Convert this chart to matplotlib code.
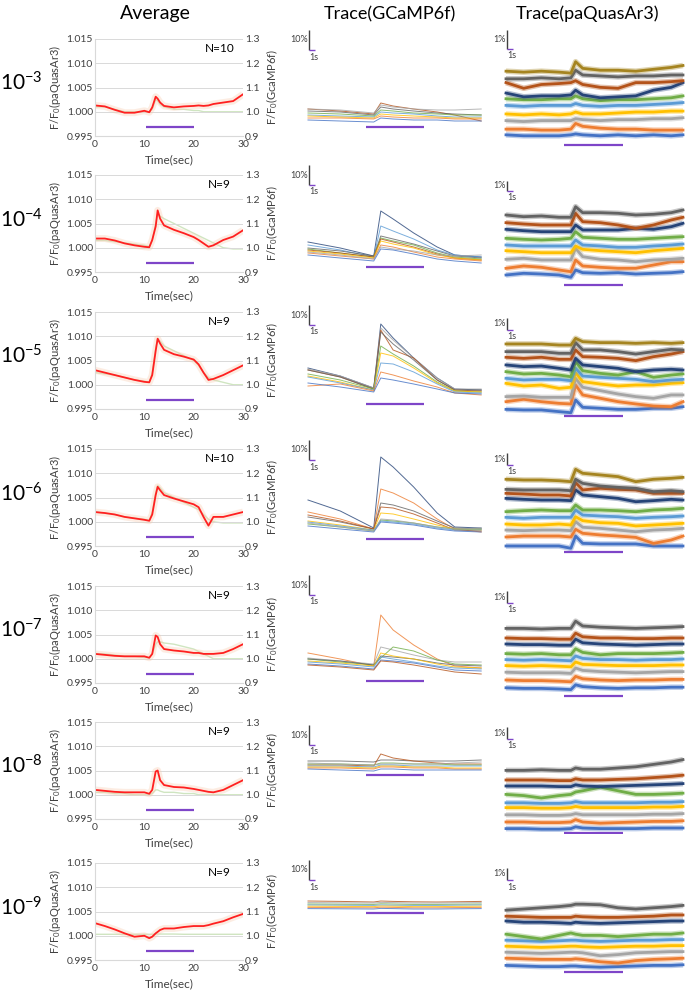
import matplotlib
matplotlib.use('Agg')
import matplotlib.pyplot as plt

plt.rcParams['font.family'] = ['Lato', 'DejaVu Sans']
plt.rcParams['mathtext.default'] = 'regular'

# ---------------------------------------------------------------- data
CONCENTRATIONS = ['10$^{-3}$', '10$^{-4}$', '10$^{-5}$', '10$^{-6}$',
                  '10$^{-7}$', '10$^{-8}$', '10$^{-9}$']
N_CELLS = [10, 9, 9, 10, 9, 9, 9]
AVG_TICKS_X = [0, 10, 20, 30]
AVG_TICKS_LEFT = [0.995, 1.000, 1.005, 1.010, 1.015]
AVG_TICKS_RIGHT = [0.9, 1.0, 1.1, 1.2, 1.3]
STIM_AVG = (10.3, 20.1)
STIM_TRACE = (9.8, 19.8)

# average panels: paQuasAr3 (left axis) and GCaMP6f (right axis)
T_AVG = [0, 2, 4, 6, 8, 10, 11, 11.6, 12.3, 12.7, 13.2, 14, 16, 18, 20, 21, 22, 23, 24, 26, 28, 30]
avg_pq_m3 = [1.0013, 1.0011, 1.0004, 0.9998, 0.9998, 1.0002, 0.9999, 1.0009, 1.0031, 1.0027, 1.0019,
             1.0012, 1.0009, 1.0011, 1.0012, 1.0013, 1.0012, 1.0013, 1.0016, 1.0019, 1.0022, 1.0036]
avg_pq_m4 = [1.0019, 1.0019, 1.0015, 1.0009, 1.0005, 1.0002, 1.0001, 1.0016, 1.0044, 1.0077, 1.0060,
             1.0046, 1.0037, 1.0030, 1.0022, 1.0016, 1.0009, 1.0002, 1.0005, 1.0016, 1.0023, 1.0036]
avg_pq_m5 = [1.0030, 1.0025, 1.0020, 1.0015, 1.0010, 1.0006, 1.0005, 1.0020, 1.0070, 1.0095, 1.0085,
             1.0072, 1.0063, 1.0058, 1.0052, 1.0042, 1.0025, 1.0010, 1.0012, 1.0020, 1.0030, 1.0040]
avg_pq_m6 = [1.0020, 1.0018, 1.0015, 1.0010, 1.0007, 1.0004, 1.0002, 1.0015, 1.0055, 1.0072, 1.0065,
             1.0055, 1.0048, 1.0042, 1.0036, 1.0030, 1.0010, 0.9992, 1.0010, 1.0010, 1.0015, 1.0020]
avg_pq_m7 = [1.0010, 1.0008, 1.0006, 1.0005, 1.0005, 1.0005, 1.0002, 1.0010, 1.0048, 1.0045, 1.0030,
             1.0020, 1.0017, 1.0015, 1.0012, 1.0012, 1.0010, 1.0010, 1.0010, 1.0012, 1.0020, 1.0030]
avg_pq_m8 = [1.0010, 1.0008, 1.0006, 1.0005, 1.0005, 1.0005, 1.0002, 1.0010, 1.0048, 1.0050, 1.0030,
             1.0020, 1.0016, 1.0015, 1.0012, 1.0010, 1.0008, 1.0006, 1.0005, 1.0010, 1.0020, 1.0030]
avg_pq_m9 = [1.0026, 1.0020, 1.0013, 1.0005, 0.9998, 1.0000, 0.9995, 0.9998, 1.0005, 1.0008, 1.0012,
             1.0015, 1.0015, 1.0018, 1.0020, 1.0020, 1.0020, 1.0022, 1.0025, 1.0030, 1.0038, 1.0045]

avg_gc_m3 = [1.02, 1.02, 1.01, 1.00, 1.00, 1.00, 1.00, 1.01, 1.05, 1.045, 1.03,
             1.02, 1.01, 1.01, 1.005, 1.005, 1.0, 1.0, 1.0, 1.0, 1.0, 1.0]
avg_gc_m4 = [1.03, 1.03, 1.025, 1.02, 1.015, 1.01, 1.005, 1.03, 1.10, 1.14, 1.13,
             1.12, 1.10, 1.08, 1.06, 1.05, 1.04, 1.03, 1.02, 1.00, 0.995, 0.995]
avg_gc_m5 = [1.05, 1.045, 1.04, 1.03, 1.02, 1.015, 1.01, 1.05, 1.15, 1.19, 1.18,
             1.16, 1.14, 1.12, 1.10, 1.08, 1.05, 1.03, 1.02, 1.01, 1.00, 1.00]
avg_gc_m6 = [1.04, 1.035, 1.03, 1.02, 1.015, 1.01, 1.005, 1.04, 1.12, 1.15, 1.14,
             1.12, 1.10, 1.08, 1.06, 1.05, 1.03, 1.01, 1.00, 0.995, 0.995, 0.995]
avg_gc_m7 = [1.02, 1.02, 1.015, 1.01, 1.01, 1.005, 1.005, 1.02, 1.06, 1.07, 1.07,
             1.065, 1.06, 1.05, 1.04, 1.03, 1.02, 1.01, 1.00, 1.00, 1.00, 1.00]
avg_gc_m8 = [1.01, 1.01, 1.005, 1.005, 1.0, 1.0, 1.0, 1.005, 1.02, 1.02, 1.015,
             1.01, 1.01, 1.005, 1.005, 1.0, 1.0, 1.0, 1.0, 1.0, 1.0, 1.0]
avg_gc_m9 = [1.006, 1.006, 1.006, 1.006, 1.006, 1.006, 1.006, 1.006, 1.007, 1.007, 1.007,
             1.007, 1.007, 1.006, 1.006, 1.006, 1.006, 1.006, 1.006, 1.006, 1.006, 1.006]

# GCaMP6f single-cell traces (dF/F in %, stacked as drawn)
T_GC = [0, 5.5, 11.2, 12.4, 14.5, 18, 22, 25, 29.5]
gc_m3 = {
    'brown':     [14, 13, 11.5, 17, 15.5, 14, 12.5, 11, 8],
    'gray':      [14, 13.5, 12, 16, 15, 14, 13.5, 13.5, 14],
    'darkgray':  [13, 12.5, 11, 15, 14, 13, 12, 11.5, 11],
    'green':     [12, 11.5, 10.5, 13.5, 13, 12, 11.5, 11, 11],
    'lightblue': [11, 10.5, 10, 12.5, 12, 11.5, 10.5, 10, 10],
    'yellow':    [10.5, 10, 9.5, 11.5, 11, 10.5, 10, 9.5, 9.5],
    'orange':    [9.5, 9.5, 9, 10.5, 10, 9.5, 9.5, 9, 9],
    'blue':      [8.5, 8, 7.5, 9.5, 9, 8.5, 8.5, 8, 8],
}
gc_m4 = {
    'navy':      [15.5, 12.5, 8.5, 31, 27, 20, 13, 9, 8],
    'lightblue': [14, 11.5, 8, 23.5, 21, 17, 11.5, 9, 8],
    'darkgray':  [12.5, 11, 8.5, 18.5, 17, 14.5, 11, 8.5, 7.5],
    'green':     [12, 10, 8, 17.5, 16, 14, 10, 8, 7],
    'brown':     [11.5, 10, 8, 17, 15.5, 13, 9.5, 7.5, 6.5],
    'yellow':    [11, 9.5, 7.5, 16, 14.5, 12.5, 9, 7.5, 6.5],
    'orange':    [10, 8.5, 7, 14, 13, 10.5, 8, 7, 6],
    'gray':      [10.5, 9, 7, 13, 12, 11, 9, 8.5, 9],
    'blue':      [9, 7.5, 6, 12, 11.5, 9.5, 7, 6, 5],
}
gc_m5 = {
    'navy':      [21, 17, 11, 43, 36, 26, 16, 10.5, 10],
    'gray':      [20.5, 17, 11, 41, 35, 26, 16, 10.5, 10.5],
    'brown':     [20, 16.5, 10.5, 40, 30, 26, 15, 10, 9.5],
    'darkgray':  [20, 16.5, 10.5, 39, 33, 25, 15, 10, 10],
    'green':     [18, 15, 10.5, 32, 28, 22, 14, 9.5, 9],
    'yellow':    [17, 14, 10, 28.5, 27, 21, 13.5, 9.5, 9],
    'lightblue': [16.5, 13.5, 10, 23.5, 23, 19, 13, 9, 8.5],
    'orange':    [12, 13, 9.5, 19, 17.5, 14.5, 11.5, 8.5, 7.5],
    'blue':      [13.5, 11.5, 9, 16, 15, 13, 10.5, 8.5, 8],
}
gc_m6 = {
    'navy':      [23.5, 18, 9.5, 45, 40, 30, 17, 10, 9.5],
    'orange':    [17.5, 14, 9, 29, 27, 22, 14, 9, 7.5],
    'darkgray':  [15, 12.5, 9, 22, 21, 18, 13, 9.5, 9],
    'brown':     [16, 13, 9, 20, 19.5, 16.5, 12, 8.5, 8],
    'yellow':    [13, 11, 8.5, 17, 16.5, 14, 11, 9, 8.5],
    'green':     [11.5, 10, 8, 13.5, 13, 12, 10, 9, 9],
    'lightblue': [12.5, 10.5, 8.5, 13, 12.5, 11.5, 9.5, 8.5, 8.5],
    'blue':      [10.5, 9, 7.5, 12.5, 12, 11, 9, 8, 7.5],
    'gray':      [12, 10, 8, 14, 13.5, 12, 10, 9, 9.5],
}
gc_m7 = {
    'orange':    [15.5, 12.5, 9, 34.5, 27, 19.5, 12.5, 9, 8],
    'gray':      [13, 11.5, 10, 18.5, 17, 14.5, 12, 11, 11],
    'green':     [12.5, 11, 9.5, 13, 18.5, 16.5, 12, 10, 9.5],
    'darkgray':  [12.5, 11.5, 9.5, 14, 13.5, 12.5, 10.5, 9.5, 9],
    'yellow':    [11.5, 10.5, 9, 15.5, 14, 12.5, 10, 8.5, 8],
    'lightblue': [11, 10, 8.5, 13.5, 12.5, 11, 9, 8, 7.5],
    'blue':      [10, 9, 7.5, 12, 11.5, 10.5, 8.5, 7, 6.5],
    'brown':     [9.5, 8.5, 7, 11.5, 11, 9.5, 7.5, 6, 5],
}
gc_m8 = {
    'darkgray':  [29.5, 29.5, 29, 30, 30, 29.5, 29.5, 29.5, 30],
    'brown':     [27.5, 27.5, 27, 33, 31, 29.5, 28.5, 28, 28],
    'green':     [28, 28, 27.5, 28.5, 28.5, 28, 28, 27.5, 27.5],
    'gray':      [28.5, 28, 27.5, 28, 28, 28, 28, 28.5, 29],
    'lightblue': [27, 27, 26.5, 27.5, 27.5, 27, 27, 27, 27],
    'yellow':    [26.5, 26.5, 26, 27, 27, 26.5, 26.5, 26, 26],
    'orange':    [26, 26, 25.5, 26.5, 26.5, 26, 26, 25.5, 25.5],
    'blue':      [25.5, 25, 24.5, 25.5, 25.5, 25, 25, 25, 25],
}
gc_m9 = {
    'brown':     [30, 29.8, 29.5, 30, 29.8, 29.6, 29.5, 29.6, 29.8],
    'gray':      [29.2, 29.1, 29, 29.3, 29.2, 29, 29, 29.1, 29.2],
    'green':     [28.5, 28.4, 28.3, 28.6, 28.5, 28.3, 28.3, 28.4, 28.5],
    'lightblue': [28, 27.9, 27.8, 28, 27.9, 27.8, 27.8, 27.9, 28],
    'yellow':    [27.4, 27.3, 27.2, 27.5, 27.4, 27.2, 27.2, 27.3, 27.4],
    'orange':    [26.8, 26.7, 26.6, 26.9, 26.8, 26.6, 26.6, 26.7, 26.8],
    'blue':      [26.2, 26.1, 26, 26.3, 26.2, 26, 26, 26.1, 26.2],
}

# paQuasAr3 single-cell traces (dF/F in %, stacked as drawn)
T_PQ = [0, 3, 6, 9, 11, 11.8, 13, 16, 19, 22, 25, 28, 30]
pq_m3 = {
    'olive':     [4.2, 4.15, 4.2, 4.15, 4.1, 4.7, 4.35, 4.25, 4.25, 4.2, 4.3, 4.4, 4.5],
    'darkgray':  [3.8, 3.8, 3.85, 3.8, 3.85, 4.25, 4.0, 3.95, 3.9, 3.95, 3.95, 4.0, 4.0],
    'brown':     [3.6, 3.3, 3.5, 3.55, 3.6, 3.7, 3.5, 3.35, 3.3, 3.6, 3.6, 3.65, 3.7],
    'navy':      [3.05, 2.85, 2.9, 2.9, 2.95, 3.2, 2.95, 2.8, 2.85, 2.9, 3.2, 3.35, 3.6],
    'green':     [2.75, 2.7, 2.7, 2.75, 2.75, 2.9, 2.75, 2.65, 2.7, 2.7, 2.75, 2.8, 2.9],
    'lightblue': [2.4, 2.35, 2.4, 2.4, 2.4, 2.5, 2.4, 2.35, 2.4, 2.4, 2.45, 2.5, 2.55],
    'yellow':    [1.95, 1.9, 1.95, 1.9, 1.95, 2.05, 1.95, 1.95, 2.0, 2.05, 2.05, 2.1, 2.1],
    'gray':      [1.6, 1.55, 1.6, 1.6, 1.6, 1.7, 1.65, 1.6, 1.65, 1.65, 1.7, 1.7, 1.75],
    'orange':    [1.15, 1.15, 1.1, 1.1, 1.15, 1.45, 1.3, 1.2, 1.15, 1.15, 1.1, 1.1, 1.1],
    'blue':      [0.85, 0.8, 0.8, 0.8, 0.85, 0.9, 0.85, 0.8, 0.85, 0.8, 0.85, 0.8, 0.85],
}
pq_m4 = {
    'darkgray':  [7.2, 7.03, 7.1, 6.97, 6.97, 8.03, 7.43, 7.43, 7.37, 7.2, 7.27, 7.43, 7.7],
    'brown':     [6.43, 6.3, 6.2, 6.2, 6.2, 7.37, 6.53, 6.43, 6.2, 5.87, 6.2, 6.7, 6.97],
    'navy':      [5.77, 5.63, 5.53, 5.53, 5.53, 6.2, 5.7, 5.7, 5.7, 5.87, 5.77, 6.03, 6.37],
    'green':     [4.87, 4.77, 4.7, 4.77, 4.87, 5.53, 4.97, 4.87, 4.77, 4.77, 4.87, 4.97, 5.03],
    'lightblue': [4.2, 4.1, 4.1, 4.1, 4.1, 4.7, 4.2, 4.1, 3.97, 3.97, 4.1, 4.2, 4.3],
    'yellow':    [3.63, 3.53, 3.43, 3.43, 3.43, 4.1, 3.77, 3.63, 3.53, 3.43, 3.63, 3.77, 3.87],
    'gray':      [2.77, 2.87, 2.7, 2.7, 2.7, 3.87, 3.03, 2.77, 2.7, 2.53, 2.7, 2.77, 2.87],
    'orange':    [1.87, 2.1, 1.97, 1.7, 1.53, 2.7, 2.1, 1.97, 1.87, 1.87, 2.2, 2.53, 2.53],
    'blue':      [1.2, 1.37, 1.3, 1.2, 0.97, 1.7, 1.43, 1.37, 1.43, 1.3, 1.37, 1.43, 1.53],
}
pq_m5 = {
    'olive':     [6.67, 6.67, 6.67, 6.58, 6.58, 7.14, 6.86, 6.78, 6.78, 6.72, 6.78, 6.72, 6.78],
    'darkgray':  [6.03, 6.03, 6.03, 5.89, 5.89, 6.78, 6.17, 6.17, 6.03, 5.83, 6.03, 6.22, 6.17],
    'brown':     [5.56, 5.47, 5.56, 5.39, 5.39, 6.17, 5.61, 5.56, 5.47, 5.28, 5.61, 5.83, 6.03],
    'navy':      [4.92, 4.78, 4.83, 4.64, 4.5, 5.47, 4.92, 4.78, 4.64, 4.36, 4.5, 4.56, 4.5],
    'green':     [4.36, 4.17, 4.22, 4.08, 3.94, 5.19, 4.44, 4.22, 4.08, 4.36, 3.89, 4.08, 4.17],
    'lightblue': [3.81, 3.67, 3.72, 3.72, 3.61, 4.64, 4.0, 3.89, 3.81, 3.72, 3.53, 3.67, 3.72],
    'yellow':    [3.39, 3.17, 3.25, 2.97, 3.06, 4.28, 3.53, 3.33, 3.17, 3.25, 3.25, 3.39, 3.44],
    'gray':      [2.28, 2.33, 2.22, 2.22, 2.22, 3.81, 3.06, 2.78, 2.5, 2.28, 2.14, 2.42, 2.42],
    'orange':    [1.86, 2.06, 1.86, 1.72, 1.67, 3.25, 2.42, 2.14, 1.86, 1.67, 1.5, 1.44, 1.86],
    'blue':      [1.22, 1.17, 1.17, 1.03, 0.94, 2.0, 1.39, 1.31, 1.22, 1.22, 1.31, 1.31, 1.44],
}
pq_m6 = {
    'olive':     [6.81, 6.75, 6.75, 6.69, 6.61, 7.64, 7.31, 7.17, 7.03, 6.61, 6.81, 6.89, 6.97],
    'darkgray':  [5.97, 5.92, 5.92, 5.92, 5.86, 6.81, 6.47, 6.25, 6.14, 6.06, 5.78, 5.86, 5.78],
    'brown':     [5.64, 5.58, 5.5, 5.5, 5.42, 6.53, 5.92, 6.06, 5.97, 5.92, 5.64, 5.64, 5.64],
    'navy':      [5.22, 5.14, 5.08, 5.08, 5.03, 5.92, 5.5, 5.36, 5.22, 4.94, 5.03, 5.14, 5.08],
    'green':     [4.11, 4.19, 4.25, 4.19, 4.19, 4.67, 4.25, 4.25, 4.19, 4.11, 4.25, 4.31, 4.39],
    'lightblue': [3.64, 3.56, 3.64, 3.64, 3.64, 4.25, 3.83, 3.75, 3.69, 3.56, 3.64, 3.69, 3.75],
    'yellow':    [3.08, 3.0, 3.0, 3.08, 3.0, 3.69, 3.36, 3.19, 3.14, 2.92, 3.0, 3.08, 3.14],
    'gray':      [2.58, 2.53, 2.58, 2.58, 2.53, 3.28, 2.81, 2.72, 2.58, 2.44, 2.58, 2.64, 2.72],
    'orange':    [2.0, 2.08, 2.08, 2.08, 2.0, 2.64, 2.31, 2.17, 2.08, 1.97, 1.47, 1.75, 2.08],
    'blue':      [1.25, 1.25, 1.25, 1.25, 1.06, 2.08, 1.47, 1.42, 1.42, 1.42, 1.25, 1.25, 1.25],
}
pq_m7 = {
    'darkgray':  [5.8, 5.8, 5.75, 5.8, 5.8, 6.4, 6.0, 5.9, 5.85, 5.8, 5.85, 5.9, 5.95],
    'brown':     [5.0, 4.95, 4.95, 4.9, 4.9, 5.4, 5.1, 5.0, 5.0, 4.95, 4.95, 5.0, 5.0],
    'navy':      [4.5, 4.45, 4.45, 4.4, 4.4, 4.9, 4.6, 4.5, 4.45, 4.4, 4.45, 4.5, 4.5],
    'green':     [3.7, 3.65, 3.7, 3.6, 3.6, 4.1, 3.8, 3.6, 3.7, 3.7, 3.7, 3.75, 3.8],
    'lightblue': [3.2, 3.15, 3.2, 3.15, 3.1, 3.5, 3.3, 3.2, 3.2, 3.15, 3.2, 3.2, 3.25],
    'yellow':    [2.7, 2.65, 2.7, 2.65, 2.6, 3.0, 2.8, 2.75, 2.7, 2.7, 2.7, 2.75, 2.75],
    'gray':      [2.15, 2.1, 2.1, 2.1, 2.05, 2.5, 2.3, 2.2, 2.15, 2.1, 2.15, 2.2, 2.2],
    'orange':    [1.5, 1.45, 1.45, 1.4, 1.35, 1.8, 1.6, 1.5, 1.45, 1.5, 1.5, 1.55, 1.55],
    'blue':      [0.85, 0.8, 0.8, 0.75, 0.7, 1.1, 0.95, 0.85, 0.8, 0.85, 0.85, 0.9, 0.9],
}
pq_m8 = {
    'darkgray':  [5.3, 5.3, 5.35, 5.3, 5.3, 5.5, 5.4, 5.4, 5.5, 5.6, 5.8, 6.0, 6.2],
    'brown':     [4.5, 4.5, 4.5, 4.45, 4.45, 4.6, 4.5, 4.5, 4.55, 4.6, 4.7, 4.8, 4.9],
    'navy':      [4.0, 4.0, 4.0, 3.95, 3.95, 4.1, 4.0, 3.95, 4.0, 4.05, 4.1, 4.15, 4.2],
    'green':     [3.3, 3.2, 3.0, 3.2, 3.3, 3.5, 3.6, 3.9, 3.6, 3.3, 3.3, 3.35, 3.4],
    'lightblue': [2.6, 2.6, 2.55, 2.55, 2.6, 2.7, 2.6, 2.6, 2.6, 2.6, 2.65, 2.65, 2.7],
    'yellow':    [2.2, 2.2, 2.15, 2.15, 2.2, 2.3, 2.2, 2.2, 2.2, 2.2, 2.25, 2.25, 2.3],
    'gray':      [1.6, 1.6, 1.55, 1.55, 1.6, 1.7, 1.6, 1.6, 1.6, 1.6, 1.65, 1.65, 1.7],
    'orange':    [1.0, 1.0, 0.95, 0.95, 1.0, 1.2, 1.0, 0.9, 0.95, 1.0, 1.05, 1.05, 1.1],
    'blue':      [0.45, 0.45, 0.4, 0.4, 0.45, 0.6, 0.5, 0.45, 0.45, 0.45, 0.5, 0.5, 0.5],
}
pq_m9 = {
    'darkgray':  [5.4, 5.5, 5.6, 5.7, 5.8, 5.9, 5.9, 5.85, 5.6, 5.5, 5.6, 5.7, 5.8],
    'brown':     [4.9, 4.85, 4.8, 4.8, 4.8, 4.9, 4.85, 4.8, 4.8, 4.85, 4.9, 5.0, 5.0],
    'navy':      [4.5, 4.4, 4.4, 4.35, 4.3, 4.4, 4.35, 4.3, 4.35, 4.4, 4.45, 4.5, 4.5],
    'green':     [3.4, 3.2, 3.0, 3.3, 3.5, 3.4, 3.3, 3.3, 3.2, 3.3, 3.4, 3.4, 3.5],
    'lightblue': [2.9, 2.85, 2.8, 2.85, 2.9, 2.9, 2.85, 2.8, 2.85, 2.9, 2.9, 2.95, 2.95],
    'yellow':    [2.4, 2.35, 2.3, 2.35, 2.4, 2.4, 2.35, 2.3, 2.35, 2.4, 2.4, 2.45, 2.45],
    'gray':      [1.9, 1.85, 1.8, 1.85, 1.9, 1.9, 1.85, 1.6, 1.7, 1.85, 1.9, 1.95, 1.95],
    'orange':    [1.4, 1.35, 1.3, 1.3, 1.3, 1.35, 1.3, 1.1, 1.0, 1.2, 1.3, 1.35, 1.4],
    'blue':      [0.8, 0.75, 0.7, 0.7, 0.75, 0.75, 0.7, 0.65, 0.7, 0.75, 0.8, 0.8, 0.85],
}

AVG_PQ = [avg_pq_m3, avg_pq_m4, avg_pq_m5, avg_pq_m6, avg_pq_m7, avg_pq_m8, avg_pq_m9]
AVG_GC = [avg_gc_m3, avg_gc_m4, avg_gc_m5, avg_gc_m6, avg_gc_m7, avg_gc_m8, avg_gc_m9]
GC_ROWS = [gc_m3, gc_m4, gc_m5, gc_m6, gc_m7, gc_m8, gc_m9]
PQ_ROWS = [pq_m3, pq_m4, pq_m5, pq_m6, pq_m7, pq_m8, pq_m9]

# ---------------------------------------------------------------- style / layout
PALETTE = {'blue': '#4472C4', 'orange': '#ED7D31', 'gray': '#A5A5A5', 'yellow': '#FFC000',
           'lightblue': '#5B9BD5', 'green': '#70AD47', 'navy': '#264478', 'brown': '#B4531A',
           'darkgray': '#636363', 'olive': '#A58420'}
PURPLE = '#7E45C8'
W, H = 685, 993
ROW_TOP = [39, 175, 312, 449, 586, 722, 863]
GC_BAR_Y = [5, 3, 3, 4, 1.5, 22.5, 24]
GC_SB_TOP = [-9, -10, -7, -9, -11, 3, -3]
PQ_SCALE = [19, 10, 12, 12, 12, 12, 12]
PQ_SB_TOP = [-9, 6, 6, 4, 5, 5, 5]
PQ_BAR_Y = [0.3, 0.2, 0.67, 0.75, 0.17, 0.1, 0.25]

fig = plt.figure(figsize=(W / 100, H / 100), dpi=100)


def px_rect(x0, y0, x1, y1):
    return [x0 / W, 1 - y1 / H, (x1 - x0) / W, (y1 - y0) / H]


def ftext(x, y, s, **kw):
    fig.text(x / W, 1 - y / H, s, **kw)


ftext(155, 14, 'Average', ha='center', va='center', fontsize=14)
ftext(390, 14, 'Trace(GCaMP6f)', ha='center', va='center', fontsize=13)
ftext(587, 14, 'Trace(paQuasAr3)', ha='center', va='center', fontsize=13)

for i, top in enumerate(ROW_TOP):
    # ---------------- average panel
    ax = fig.add_axes(px_rect(95, top, 243, top + 97))
    ax2 = ax.twinx()
    ax.set_zorder(ax2.get_zorder() + 1)
    ax.patch.set_visible(False)
    ax.set_xlim(0, 30)
    ax.set_ylim(0.995, 1.015)
    ax2.set_ylim(0.9, 1.3)
    ax.set_xticks(AVG_TICKS_X)
    ax.set_yticks(AVG_TICKS_LEFT)
    ax.set_yticklabels([f'{v:.3f}' for v in AVG_TICKS_LEFT])
    ax2.set_yticks(AVG_TICKS_RIGHT)
    ax2.set_yticklabels([f'{v:.1f}' for v in AVG_TICKS_RIGHT])
    ax.tick_params(axis='y', length=0, labelsize=7.5, pad=1.5, labelcolor='#404040')
    ax.tick_params(axis='x', length=0, labelsize=7.5, pad=3, labelcolor='#404040')
    ax2.tick_params(axis='y', length=0, labelsize=7.5, pad=1.5, labelcolor='#404040')
    for s in ('top', 'right'):
        ax.spines[s].set_visible(False)
    for s in ('left', 'bottom'):
        ax.spines[s].set_color('#d9d9d9')
        ax.spines[s].set_linewidth(0.8)
    for sp in ax2.spines.values():
        sp.set_visible(False)
    ax.grid(axis='y', color='#d9d9d9', lw=0.7)
    ax2.plot(T_AVG, AVG_GC[i], color='#A9D18E', lw=1.0, alpha=0.55)
    ax.plot(T_AVG, AVG_PQ[i], color='#F8CBAD', lw=5, alpha=0.35, solid_capstyle='butt')
    ax.plot(T_AVG, AVG_PQ[i], color='#FF2020', lw=1.3)
    ax.hlines(0.9968, *STIM_AVG, color=PURPLE, lw=1.6)
    ax.text(0.84, 0.905, f'N={N_CELLS[i]}', transform=ax.transAxes,
            ha='center', va='center', fontsize=8.5)
    ftext(55, top + 48, 'F/F$_0$(paQuasAr3)', rotation=90, ha='center', va='center',
          fontsize=8, color='#404040')
    ftext(272, top + 48, 'F/F$_0$(GcaMP6f)', rotation=90, ha='center', va='center',
          fontsize=8, color='#404040')
    ftext(169, top + 121, 'Time(sec)', ha='center', va='center', fontsize=8.5, color='#404040')
    ftext(0, top + 52, CONCENTRATIONS[i], ha='left', va='baseline', fontsize=15)

    # ---------------- GCaMP6f traces
    axg = fig.add_axes(px_rect(296, top - 14, 490, top + 98))
    axg.set_xlim(-2.04, 31.0)
    axg.set_ylim(0, 56)
    axg.axis('off')
    for name, vals in GC_ROWS[i].items():
        axg.plot(T_GC, vals, color=PALETTE[name], lw=0.7, alpha=0.8)
    axg.hlines(GC_BAR_Y[i], *STIM_TRACE, color=PURPLE, lw=1.6)
    ytop = (98 - GC_SB_TOP[i]) / 2
    axg.vlines(0.17, ytop - 10, ytop, color='#404040', lw=1)
    axg.hlines(ytop - 10, 0.17, 1.17, color=PURPLE, lw=1)
    axg.text(0.0, ytop - 5, '10%', ha='right', va='center', fontsize=6.5, color='#404040')
    axg.text(0.17, ytop - 13.5, '1s', ha='left', va='center', fontsize=6.5, color='#404040')

    # ---------------- paQuasAr3 traces
    sc = PQ_SCALE[i]
    axp = fig.add_axes(px_rect(495, top - 14, 685, top + 112))
    axp.set_xlim(-1.86, 30.34)
    axp.set_ylim(0, 126 / sc)
    axp.axis('off')
    for name, vals in reversed(list(PQ_ROWS[i].items())):
        axp.plot(T_PQ, vals, color=PALETTE[name], lw=4.0, alpha=0.35, solid_capstyle='butt')
        axp.plot(T_PQ, vals, color=PALETTE[name], lw=2.0)
    axp.hlines(PQ_BAR_Y[i], *STIM_TRACE, color=PURPLE, lw=1.6)
    ytop = (112 - PQ_SB_TOP[i]) / sc
    axp.vlines(0.17, ytop - 1, ytop, color='#404040', lw=1)
    axp.hlines(ytop - 1, 0.17, 1.17, color=PURPLE, lw=1)
    axp.text(0.0, ytop - 0.5, '1%', ha='right', va='center', fontsize=6.5, color='#404040')
    axp.text(0.17, ytop - 1 - 7 / sc, '1s', ha='left', va='center', fontsize=6.5, color='#404040')

fig.savefig('out.png', dpi=100)
